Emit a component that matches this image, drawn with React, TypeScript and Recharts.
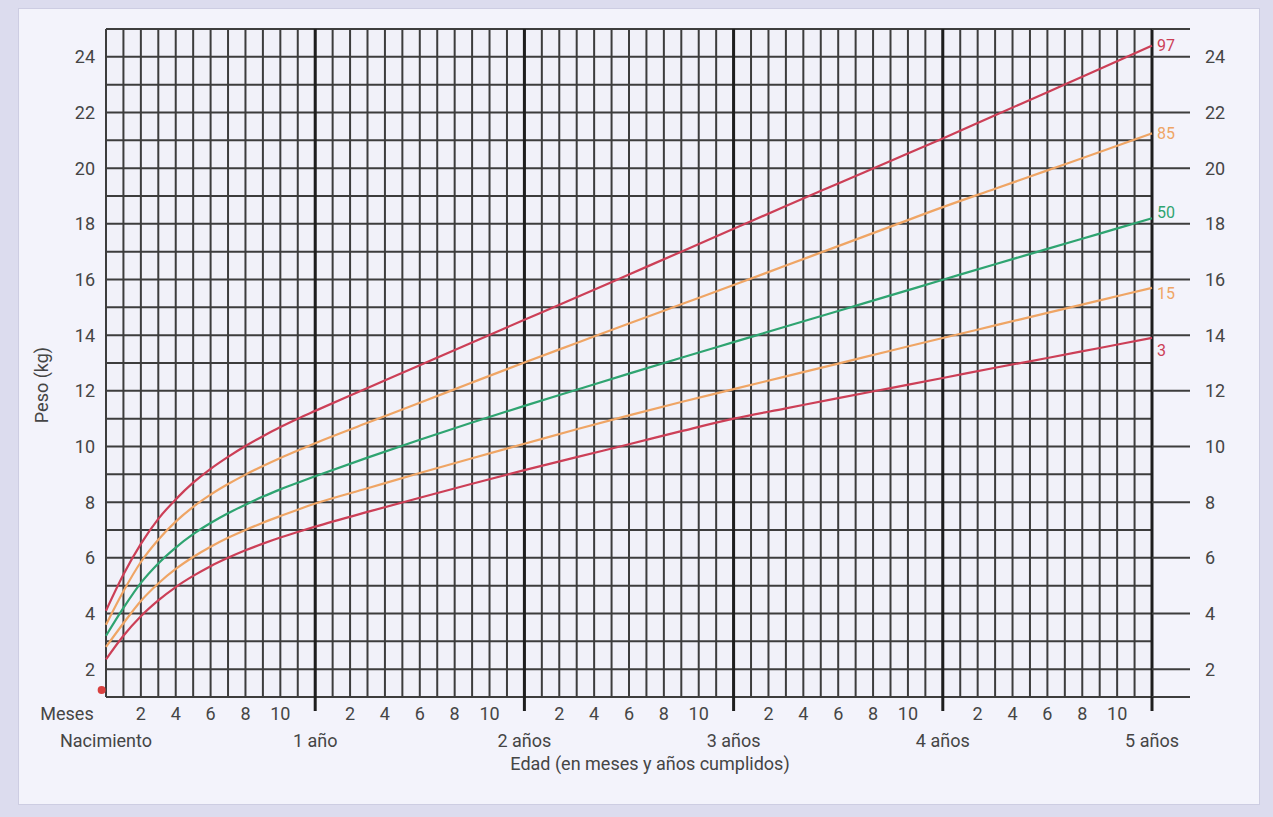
import React from 'react';
import {
  LineChart, Line, XAxis, YAxis, CartesianGrid,
  ReferenceLine, ReferenceDot, LabelList,
} from 'recharts';

// Peso para la edad (niñas), percentiles
const months = [0, 1, 2, 3, 4, 5, 6, 7, 8, 9, 10, 11, 12, 15, 18, 21, 24, 27, 30, 33, 36, 39, 42, 45, 48, 51, 54, 57, 60];
const p3 = [2.35, 3.2, 3.9, 4.47, 4.95, 5.35, 5.7, 6.0, 6.27, 6.51, 6.73, 6.93, 7.12, 7.65, 8.16, 8.66, 9.15, 9.62, 10.08, 10.55, 11.0, 11.37, 11.74, 12.1, 12.46, 12.83, 13.18, 13.54, 13.9];
const p15 = [2.8, 3.65, 4.45, 5.08, 5.6, 6.03, 6.4, 6.72, 7.0, 7.26, 7.5, 7.73, 7.95, 8.5, 9.05, 9.58, 10.1, 10.62, 11.12, 11.6, 12.06, 12.52, 12.98, 13.44, 13.9, 14.35, 14.8, 15.25, 15.7];
const p50 = [3.2, 4.2, 5.1, 5.8, 6.37, 6.85, 7.25, 7.6, 7.91, 8.2, 8.46, 8.7, 8.93, 9.6, 10.24, 10.86, 11.46, 12.04, 12.62, 13.19, 13.75, 14.31, 14.87, 15.43, 15.99, 16.55, 17.1, 17.65, 18.2];
const p85 = [3.6, 4.8, 5.85, 6.65, 7.3, 7.83, 8.27, 8.65, 8.99, 9.3, 9.59, 9.86, 10.12, 10.85, 11.57, 12.3, 13.02, 13.72, 14.42, 15.11, 15.8, 16.5, 17.2, 17.9, 18.6, 19.26, 19.92, 20.58, 21.25];
const p97 = [4.1, 5.4, 6.5, 7.4, 8.1, 8.7, 9.2, 9.63, 10.02, 10.37, 10.7, 11.0, 11.28, 12.1, 12.92, 13.74, 14.55, 15.36, 16.18, 17.0, 17.82, 18.64, 19.45, 20.26, 21.07, 21.9, 22.73, 23.56, 24.4];

const yearLabels = ['Nacimiento', '1 año', '2 años', '3 años', '4 años', '5 años'];
const yearMonths = [12, 24, 36, 48, 60];
const monthTicks = Array.from({ length: 61 }, (_, i) => i);
const weightTicks = Array.from({ length: 25 }, (_, i) => i + 1);
const rightTicks = [1, 2, 4, 6, 8, 10, 12, 14, 16, 18, 20, 22, 24, 25];
const birthMark = { month: -0.25, kg: 1.25 };

const FONT = 'Roboto, "DejaVu Sans", sans-serif';
const TEXT = '#454545';
const GRID = '#3d3d3d';
const RED = '#cc3f57';
const ORANGE = '#efa565';
const GREEN = '#2fa471';

const series = [
  { key: 'p97', name: '97', color: RED, dy: 0, axis: 'right' },
  { key: 'p85', name: '85', color: ORANGE, dy: 0, axis: 0 },
  { key: 'p50', name: '50', color: GREEN, dy: -6, axis: 0 },
  { key: 'p15', name: '15', color: ORANGE, dy: 6, axis: 0 },
  { key: 'p3', name: '3', color: RED, dy: 13, axis: 0 },
];

const data = months.map((m, i) => ({
  month: m, p3: p3[i], p15: p15[i], p50: p50[i], p85: p85[i], p97: p97[i],
}));

const textStyle = { fontFamily: FONT, fontSize: 18, fill: TEXT };

// eslint-disable-next-line @typescript-eslint/no-explicit-any
function MonthTick(props: any) {
  const { x, y, payload } = props;
  const m = payload.value as number;
  const out: React.ReactNode[] = [];
  if (m === 0) {
    out.push(<text key="meses" x={x - 39} y={y + 16} textAnchor="middle" dominantBaseline="central" style={textStyle}>Meses</text>);
  }
  if (m % 12 === 0) {
    if (m > 0) out.push(<line key="ext" x1={x} x2={x} y1={y} y2={y + 14} stroke="#1e1e1e" strokeWidth={3} />);
    out.push(<text key="yr" x={x} y={y + 43} textAnchor="middle" dominantBaseline="central" style={textStyle}>{yearLabels[m / 12]}</text>);
  } else if (m % 2 === 0) {
    out.push(<text key="mo" x={x} y={y + 16} textAnchor="middle" dominantBaseline="central" style={textStyle}>{m % 12}</text>);
  }
  return <g>{out}</g>;
}

// eslint-disable-next-line @typescript-eslint/no-explicit-any
function XTitle(props: any) {
  const vb = props.viewBox || { x: 106, y: 697, width: 1046 };
  return (
    <text x={vb.x + vb.width / 2 + 21} y={vb.y + 66} textAnchor="middle" dominantBaseline="central" style={textStyle}>
      Edad (en meses y años cumplidos)
    </text>
  );
}

// eslint-disable-next-line @typescript-eslint/no-explicit-any
function YTitle(props: any) {
  const vb = props.viewBox || { y: 29, height: 668 };
  const cx = 41;
  const cy = vb.y + vb.height / 2 + 22;
  return (
    <text x={cx} y={cy} textAnchor="middle" dominantBaseline="central" transform={`rotate(-90 ${cx} ${cy})`} style={textStyle}>
      Peso (kg)
    </text>
  );
}

const endLabel = (s: typeof series[number]) => {
  // eslint-disable-next-line @typescript-eslint/no-explicit-any
  return (props: any) => {
    const { x, y, index } = props;
    if (index !== months.length - 1) return null;
    return (
      <text x={x + 5} y={y + s.dy} fill={s.color} fontFamily={FONT} fontSize={16} dominantBaseline="central">
        {s.name}
      </text>
    );
  };
};

export default function App() {
  return (
    <div style={{ position: 'absolute', left: 0, top: 0, width: 1273, height: 817, background: '#dcdcee' }}>
      <div style={{
        position: 'absolute', left: 18, top: 8, width: 1242, height: 797,
        background: '#f3f3fb', border: '1px solid #cdcde2', boxSizing: 'border-box',
      }} />
      <div style={{ position: 'absolute', left: 0, top: 0 }}>
        <LineChart width={1273} height={817} data={data} margin={{ top: 29, right: 0, bottom: 30, left: 0 }}>
          <CartesianGrid stroke={GRID} strokeWidth={2} fill="#f1f1f9" />
          <XAxis
            dataKey="month" type="number" domain={[0, 60]} ticks={monthTicks} interval={0}
            tick={<MonthTick />} tickLine={false} axisLine={false} tickSize={0} tickMargin={0}
            height={90} label={<XTitle />}
          />
          <YAxis
            type="number" domain={[1, 25]} ticks={weightTicks} interval={0}
            tickFormatter={(v: number) => (v % 2 === 0 ? String(v) : '')}
            tick={textStyle} tickLine={false} axisLine={false} tickSize={0} tickMargin={11}
            width={106} label={<YTitle />}
          />
          <YAxis
            yAxisId="right" orientation="right" type="number" domain={[1, 25]} ticks={rightTicks} interval={0}
            tickFormatter={(v: number) => (v % 2 === 0 && v < 25 ? String(v) : '')}
            tick={textStyle} tickLine={{ stroke: GRID, strokeWidth: 2 }} axisLine={false}
            tickSize={38} tickMargin={15} width={121}
          />
          {yearMonths.map((m) => (
            <ReferenceLine key={m} x={m} stroke="#1e1e1e" strokeWidth={3} />
          ))}
          {series.map((s) => (
            <Line
              key={s.key} yAxisId={s.axis} type="monotone" dataKey={s.key} stroke={s.color} strokeWidth={2.2}
              dot={false} activeDot={false} isAnimationActive={false}
            >
              <LabelList dataKey={s.key} content={endLabel(s)} />
            </Line>
          ))}
          <ReferenceDot x={birthMark.month} y={birthMark.kg} r={4} fill="#d8403f" stroke="none" ifOverflow="visible" />
        </LineChart>
      </div>
    </div>
  );
}
